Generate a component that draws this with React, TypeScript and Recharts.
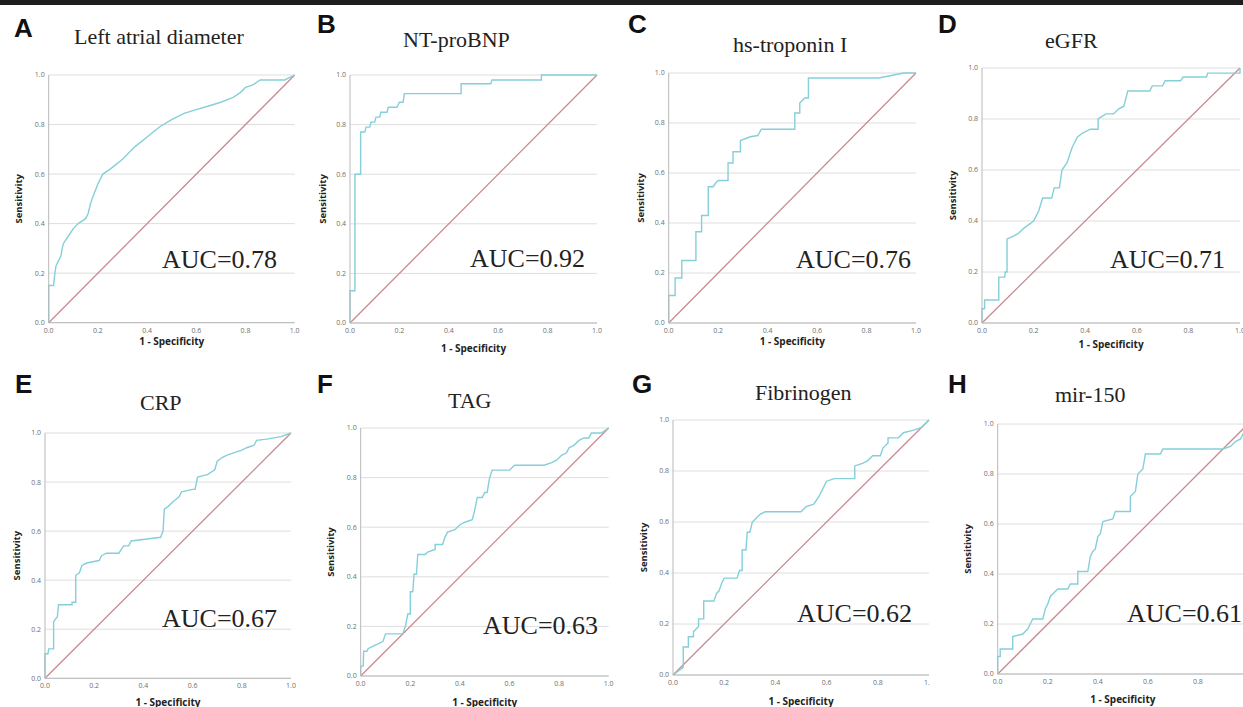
import React from 'react';
import { LineChart, Line, XAxis, YAxis, CartesianGrid, ReferenceLine } from 'recharts';

// panel text
const panelLetters = ['A', 'B', 'C', 'D', 'E', 'F', 'G', 'H'];
const markerNames = ['Left atrial diameter', 'NT-proBNP', 'hs-troponin I', 'eGFR', 'CRP', 'TAG', 'Fibrinogen', 'mir-150'];
const aucValues = [0.78, 0.92, 0.76, 0.71, 0.67, 0.63, 0.62, 0.61];
const axisTicks = [0, 0.2, 0.4, 0.6, 0.8, 1.0];

// [1 - specificity, sensitivity]
const referenceDiagonal = [[0, 0], [1, 1]];

const rocA = [
    [0, 0], [0, 0.15], [0.02, 0.15], [0.025, 0.2], [0.03, 0.23], [0.04, 0.25], [0.05, 0.27], [0.055, 0.3],
    [0.06, 0.32], [0.08, 0.35], [0.1, 0.38], [0.12, 0.4], [0.15, 0.42], [0.16, 0.44], [0.17, 0.48], [0.18, 0.51],
    [0.2, 0.56], [0.22, 0.6], [0.25, 0.62], [0.3, 0.66], [0.35, 0.71], [0.4, 0.75], [0.45, 0.79], [0.5, 0.82],
    [0.55, 0.845], [0.6, 0.86], [0.65, 0.875], [0.7, 0.89], [0.75, 0.91], [0.78, 0.93], [0.8, 0.95], [0.83, 0.96],
    [0.86, 0.98], [0.96, 0.98], [0.98, 0.99], [1, 1],
];

const rocB = [
    [0, 0], [0, 0.13], [0.02, 0.13], [0.02, 0.6], [0.043, 0.6], [0.043, 0.77], [0.06, 0.77], [0.065, 0.79],
    [0.08, 0.79], [0.085, 0.81], [0.1, 0.81], [0.105, 0.83], [0.12, 0.83], [0.125, 0.85], [0.15, 0.85],
    [0.155, 0.87], [0.19, 0.87], [0.2, 0.89], [0.215, 0.89], [0.22, 0.925], [0.45, 0.925], [0.45, 0.965],
    [0.57, 0.965], [0.575, 0.98], [0.775, 0.98], [0.775, 1], [1, 1],
];

const rocC = [
    [0, 0], [0, 0.11], [0.026, 0.11], [0.026, 0.18], [0.053, 0.18], [0.053, 0.25], [0.11, 0.25], [0.11, 0.365],
    [0.133, 0.365], [0.133, 0.43], [0.16, 0.43], [0.16, 0.545], [0.18, 0.545], [0.19, 0.56], [0.2, 0.57],
    [0.24, 0.57], [0.24, 0.64], [0.26, 0.64], [0.26, 0.685], [0.29, 0.685], [0.29, 0.73], [0.33, 0.745],
    [0.36, 0.75], [0.375, 0.775], [0.51, 0.775], [0.51, 0.84], [0.53, 0.84], [0.53, 0.88], [0.55, 0.9],
    [0.565, 0.9], [0.565, 0.98], [0.85, 0.98], [0.9, 0.99], [0.95, 1], [1, 1],
];

const rocD = [
    [0, 0], [0, 0.056], [0.01, 0.056], [0.01, 0.09], [0.065, 0.09], [0.065, 0.18], [0.088, 0.18], [0.09, 0.2],
    [0.097, 0.2], [0.097, 0.33], [0.12, 0.34], [0.14, 0.35], [0.16, 0.37], [0.18, 0.385], [0.2, 0.4],
    [0.22, 0.44], [0.235, 0.49], [0.27, 0.49], [0.28, 0.53], [0.3, 0.53], [0.31, 0.6], [0.33, 0.63],
    [0.35, 0.69], [0.37, 0.73], [0.39, 0.745], [0.42, 0.76], [0.45, 0.76], [0.45, 0.8], [0.48, 0.82],
    [0.51, 0.82], [0.53, 0.84], [0.55, 0.85], [0.565, 0.91], [0.65, 0.91], [0.66, 0.93], [0.7, 0.93],
    [0.71, 0.95], [0.77, 0.95], [0.78, 0.965], [0.87, 0.965], [0.875, 0.98], [1, 0.98], [1, 1],
];

const rocE = [
    [0, 0], [0, 0.1], [0.012, 0.1], [0.015, 0.12], [0.035, 0.12], [0.035, 0.23], [0.045, 0.245], [0.05, 0.25],
    [0.055, 0.3], [0.11, 0.3], [0.11, 0.31], [0.125, 0.31], [0.125, 0.42], [0.14, 0.43], [0.15, 0.46],
    [0.17, 0.47], [0.22, 0.48], [0.23, 0.5], [0.25, 0.51], [0.3, 0.51], [0.32, 0.54], [0.34, 0.54],
    [0.35, 0.56], [0.47, 0.575], [0.48, 0.6], [0.485, 0.69], [0.5, 0.7], [0.52, 0.72], [0.545, 0.74],
    [0.555, 0.76], [0.6, 0.77], [0.61, 0.77], [0.62, 0.82], [0.66, 0.83], [0.69, 0.85], [0.7, 0.885],
    [0.72, 0.9], [0.74, 0.91], [0.77, 0.92], [0.8, 0.93], [0.82, 0.94], [0.85, 0.95], [0.86, 0.97],
    [0.9, 0.975], [0.96, 0.985], [1, 1],
];

const rocF = [
    [0, 0], [0, 0.04], [0.01, 0.04], [0.012, 0.1], [0.025, 0.1], [0.03, 0.11], [0.05, 0.12], [0.07, 0.13],
    [0.09, 0.14], [0.1, 0.17], [0.17, 0.17], [0.18, 0.2], [0.19, 0.25], [0.2, 0.25], [0.2, 0.34], [0.21, 0.34],
    [0.215, 0.41], [0.225, 0.41], [0.23, 0.49], [0.26, 0.49], [0.27, 0.5], [0.3, 0.51], [0.3, 0.53],
    [0.33, 0.53], [0.34, 0.56], [0.35, 0.58], [0.38, 0.59], [0.4, 0.61], [0.42, 0.62], [0.45, 0.63],
    [0.46, 0.67], [0.47, 0.72], [0.49, 0.72], [0.5, 0.74], [0.51, 0.74], [0.52, 0.8], [0.53, 0.83],
    [0.6, 0.83], [0.62, 0.85], [0.74, 0.85], [0.77, 0.86], [0.79, 0.87], [0.81, 0.89], [0.83, 0.9],
    [0.84, 0.92], [0.86, 0.93], [0.88, 0.95], [0.9, 0.96], [0.92, 0.96], [0.93, 0.98], [0.97, 0.98], [1, 1],
];

const rocG = [
    [0, 0], [0.04, 0.03], [0.04, 0.11], [0.06, 0.11], [0.06, 0.15], [0.08, 0.15], [0.08, 0.17], [0.1, 0.19],
    [0.1, 0.22], [0.12, 0.22], [0.12, 0.29], [0.16, 0.29], [0.17, 0.32], [0.18, 0.33], [0.19, 0.36],
    [0.2, 0.38], [0.25, 0.38], [0.26, 0.41], [0.27, 0.41], [0.27, 0.49], [0.285, 0.49], [0.29, 0.56],
    [0.3, 0.56], [0.31, 0.6], [0.32, 0.61], [0.34, 0.63], [0.36, 0.64], [0.5, 0.64], [0.52, 0.66],
    [0.55, 0.67], [0.57, 0.7], [0.58, 0.72], [0.6, 0.76], [0.63, 0.77], [0.71, 0.77], [0.71, 0.82],
    [0.74, 0.83], [0.76, 0.84], [0.78, 0.86], [0.81, 0.86], [0.82, 0.89], [0.84, 0.91], [0.84, 0.93],
    [0.88, 0.93], [0.9, 0.95], [0.94, 0.96], [0.97, 0.97], [1, 1],
];

const rocH = [
    [0, 0], [0, 0.07], [0.01, 0.07], [0.01, 0.1], [0.06, 0.1], [0.06, 0.15], [0.1, 0.16], [0.12, 0.18],
    [0.13, 0.2], [0.14, 0.22], [0.18, 0.22], [0.19, 0.26], [0.2, 0.28], [0.21, 0.31], [0.23, 0.33],
    [0.24, 0.34], [0.28, 0.34], [0.29, 0.36], [0.32, 0.36], [0.32, 0.41], [0.36, 0.41], [0.37, 0.47],
    [0.38, 0.49], [0.39, 0.5], [0.4, 0.55], [0.41, 0.56], [0.42, 0.61], [0.46, 0.62], [0.47, 0.65],
    [0.53, 0.65], [0.53, 0.71], [0.55, 0.73], [0.56, 0.8], [0.58, 0.82], [0.59, 0.88], [0.65, 0.88],
    [0.66, 0.9], [0.9, 0.9], [0.93, 0.91], [0.95, 0.93], [0.97, 0.94], [1, 1],
];

const rocCurves = [rocA, rocB, rocC, rocD, rocE, rocF, rocG, rocH];

// where each small plot sits on the page (plot box, label spots)
const layout = [
    { x0: 48.7, x1: 294.7, yT: 75, yB: 322.7, sensX: 19, specY: 345, letter: [14, 15], title: [74, 26], auc: [162, 247] },
    { x0: 350, x1: 597, yT: 75, yB: 323, sensX: 323, specY: 352, letter: [317, 11], title: [403, 29], auc: [470, 246] },
    { x0: 668.7, x1: 916, yT: 73, yB: 323, sensX: 641, specY: 345, letter: [628, 11], title: [733, 34], auc: [796, 247] },
    { x0: 982, x1: 1240, yT: 68, yB: 323, sensX: 953, specY: 348, letter: [938, 11], title: [1045, 30], auc: [1110, 247] },
    { x0: 45, x1: 291, yT: 432.7, yB: 678, sensX: 17, specY: 706, letter: [15, 371], title: [140, 392], auc: [162, 606] },
    { x0: 360.7, x1: 608.7, yT: 428, yB: 676, sensX: 331, specY: 706, letter: [317, 371], title: [448, 390], auc: [483, 613] },
    { x0: 673, x1: 929, yT: 420, yB: 675, sensX: 644, specY: 705, letter: [632, 371], title: [755, 382], auc: [797, 601], clip: 930 },
    { x0: 997.7, x1: 1248, yT: 424, yB: 674, sensX: 968, specY: 703, letter: [948, 371], title: [1055, 384], auc: [1127, 601] },
];

const ROC_COLOR = '#84cfd9';
const DIAG_COLOR = '#c98a90';
const TEXT_COLOR = '#222';

const RocPanel = ({ i }: { i: number }) => {
    const L: any = layout[i];
    const mt = 6;
    const mr = 6;
    const mb = 6;
    const yW = L.x0 - L.sensX + 6;
    const xH = L.specY - L.yB;
    const plotW = L.x1 - L.x0;
    const plotH = L.yB - L.yT;
    const left = L.x0 - yW;
    const top = L.yT - mt;
    const width = yW + plotW + mr;
    const height = mt + plotH + xH + mb;

    const curve = rocCurves[i].map(([x, y]) => ({ x, y }));
    const diagSegment = referenceDiagonal.map(([x, y]) => ({ x, y }));

    const sensLabel = () => {
        const lx = L.sensX - left;
        const ly = mt + plotH / 2;
        return (
            <text x={lx} y={ly} transform={`rotate(-90 ${lx} ${ly})`} textAnchor="middle" dy="0.35em"
                fontSize={9.5} fontWeight={700} fill={TEXT_COLOR} fontFamily="'Open Sans', sans-serif">
                Sensitivity
            </text>
        );
    };
    const specLabel = () => (
        <text x={yW + plotW / 2} y={mt + plotH + xH} textAnchor="middle"
            fontSize={10} fontWeight={700} fill={TEXT_COLOR} fontFamily="'Open Sans', sans-serif">
            1 - Specificity
        </text>
    );

    const tickStyle = { fontSize: 7, fill: '#6f6f6f', fontFamily: "'Open Sans', sans-serif" };

    return (
        <>
            <div style={{ position: 'absolute', left: L.letter[0], top: L.letter[1], fontFamily: "'Liberation Sans', Arial, sans-serif", fontWeight: 700, fontSize: 26, lineHeight: '26px', color: '#111' }}>
                {panelLetters[i]}
            </div>
            <div style={{ position: 'absolute', left: L.title[0], top: L.title[1], fontFamily: "'Liberation Serif', 'Times New Roman', serif", fontSize: 22, lineHeight: '22px', color: TEXT_COLOR, whiteSpace: 'nowrap' }}>
                {markerNames[i]}
            </div>
            <div style={{ position: 'absolute', left, top, width: L.clip ? L.clip - left : width, height, overflow: 'hidden' }}>
                <LineChart width={width} height={height} margin={{ top: mt, right: mr, left: 0, bottom: mb }}>
                    <CartesianGrid vertical={false} stroke="#dedede" />
                    <XAxis
                        type="number"
                        dataKey="x"
                        domain={[0, 1]}
                        ticks={axisTicks}
                        tickFormatter={(v) => v.toFixed(1)}
                        height={xH}
                        tickLine={false}
                        tickSize={0}
                        tickMargin={5}
                        axisLine={{ stroke: '#b8b8b8' }}
                        tick={tickStyle}
                        label={specLabel}
                    />
                    <YAxis
                        type="number"
                        domain={[0, 1]}
                        ticks={axisTicks}
                        tickFormatter={(v) => v.toFixed(1)}
                        width={yW}
                        tickLine={false}
                        tickSize={0}
                        tickMargin={4}
                        axisLine={{ stroke: '#b8b8b8' }}
                        tick={tickStyle}
                        label={sensLabel}
                    />
                    <ReferenceLine segment={diagSegment} stroke={DIAG_COLOR} strokeWidth={1.3} />
                    <Line data={curve} dataKey="y" type="linear" stroke={ROC_COLOR} strokeWidth={1.4} dot={false} isAnimationActive={false} />
                </LineChart>
            </div>
            <div style={{ position: 'absolute', left: L.auc[0], top: L.auc[1], fontFamily: "'Liberation Serif', 'Times New Roman', serif", fontSize: 26, lineHeight: '26px', color: TEXT_COLOR, whiteSpace: 'nowrap' }}>
                AUC={aucValues[i].toFixed(2)}
            </div>
        </>
    );
};

export default function App() {
    return (
        <div style={{ position: 'absolute', left: 0, top: 0, width: 1243, height: 707, overflow: 'hidden', background: '#fff' }}>
            <div style={{ position: 'absolute', left: 0, top: 0, width: 1243, height: 5, background: '#1e1e1e' }} />
            {panelLetters.map((_, i) => <RocPanel key={i} i={i} />)}
        </div>
    );
}
